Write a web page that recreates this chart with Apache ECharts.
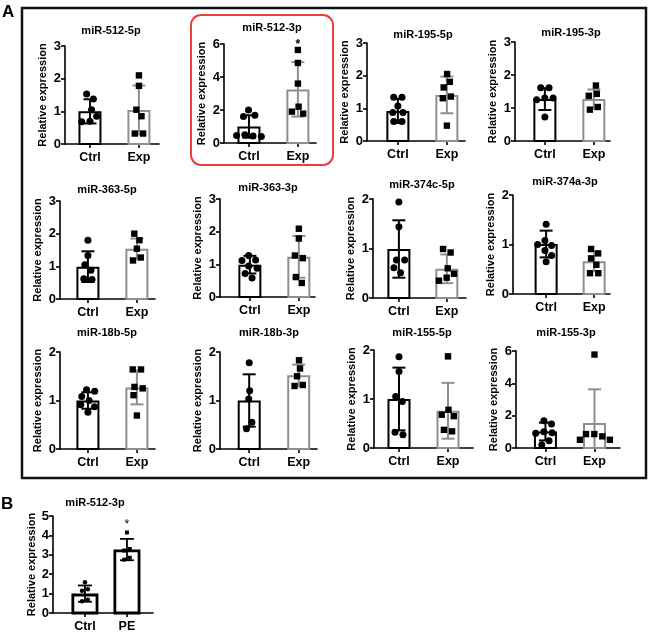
<!DOCTYPE html>
<html><head><meta charset="utf-8">
<script src="https://cdn.jsdelivr.net/npm/echarts@6/dist/echarts.min.js"></script>
<style>html,body{margin:0;padding:0;background:#fff}#c{width:650px;height:634px}</style>
</head><body><div id="c"></div>
<script>
// ---------- DATA ----------
const panelTitles = ['miR-512-5p','miR-512-3p','miR-195-5p','miR-195-3p',
  'miR-363-5p','miR-363-3p','miR-374c-5p','miR-374a-3p',
  'miR-18b-5p','miR-18b-3p','miR-155-5p','miR-155-3p','miR-512-3p'];
const categoriesA = ['Ctrl','Exp'];
const categoriesB = ['Ctrl','PE'];
const yMax      = [3,6,3,3, 3,3,2,2, 2,2,2,6, 5];
const yInterval = [1,2,1,1, 1,1,1,1, 1,1,1,2, 1];
const ctrlPoints = [
  [1.53,1.38,1.05,0.85,0.70,0.68],
  [2.00,1.68,1.60,0.50,0.45,0.42,0.40],
  [1.34,1.34,1.07,0.87,0.87,0.60,0.60],
  [1.61,1.61,1.30,1.30,1.25,0.73],
  [1.80,1.33,1.05,0.88,0.62,0.60],
  [1.27,1.13,1.12,0.95,0.88,0.72,0.58],
  [1.94,1.44,0.77,0.77,0.61,0.51],
  [1.41,1.08,1.00,0.98,0.88,0.78,0.65],
  [1.22,1.19,1.08,1.00,0.91,0.87,0.76],
  [1.78,1.20,1.03,0.55,0.42],
  [1.86,1.56,1.05,0.95,0.32,0.27],
  [1.68,1.48,1.00,0.95,0.92,0.45,0.20],
  [1.58,1.22,1.15,0.68,0.60]
];
const expPoints = [
  [2.10,1.78,1.05,0.85,0.32,0.32],
  [5.64,4.85,3.60,2.20,1.78,1.90],
  [2.05,1.81,1.64,1.36,1.31,0.47],
  [1.68,1.43,1.37,1.03,0.95],
  [2.00,1.80,1.54,1.27,1.18],
  [2.09,1.79,1.27,1.19,0.61,0.43],
  [0.99,0.92,0.60,0.49,0.41,0.35],
  [0.91,0.82,0.72,0.59,0.42,0.42],
  [1.64,1.64,1.28,1.25,1.11,0.69],
  [1.83,1.66,1.50,1.32,1.30],
  [1.87,0.78,0.68,0.65,0.37,0.34],
  [5.78,0.86,0.86,0.72,0.51,0.51],
  [4.15,3.30,3.22,2.85,2.75]
];
const ctrlMean = [1.00,1.00,0.92,1.27, 0.99,0.99,0.99,1.01, 1.00,1.00,1.00,1.02, 1.00];
const ctrlSD   = [0.37,0.68,0.37,0.33, 0.47,0.27,0.58,0.27, 0.17,0.54,0.64,0.55, 0.42];
const expMean  = [1.04,3.25,1.41,1.27, 1.54,1.23,0.59,0.66, 1.27,1.52,0.76,1.54, 3.27];
const expSD    = [0.75,1.65,0.56,0.29, 0.31,0.64,0.29,0.20, 0.35,0.22,0.57,2.09, 0.55];
const expSignif = ['','*','','', '','','','', '','','','', '*'];

// ---------- LAYOUT (pixels) ----------
// [left, top, width, height, padLeft(cat units), padRight(cat units), titleX, titleY]
const layout = [
  [65,46,94,98, .51,.41, 111,31],
  [224,44,92,99, .51,.37, 272,28],
  [367,43,98,98, .63,.37, 423,35],
  [515,42,95,99, .61,.33, 571,33],
  [60,201,95,98, .57,.37, 107,190],
  [220,199,95,98, .61,.33, 268,188],
  [373,199,93,99, .54,.40, 422,185],
  [513,195,97,99, .69,.33, 565,182],
  [60,352,95,97, .57,.37, 107,333],
  [220,352,97,97, .59,.37, 269,333],
  [374,350,99,98, .51,.51, 422,333],
  [516,351,104,97, .60,.52, 566,333],
  [53,516,100,97, .76,.62, 95,503]
];
const FONT = 'Arial, "Liberation Sans", Helvetica, sans-serif';
const GRAY = '#8f8f8f';

const grids=[], xAxes=[], yAxes=[], series=[], graphics=[];

function swarm(vals, py, d){
  const idx = vals.map((v,i)=>i).sort((a,b)=>vals[b]-vals[a]);
  const placed=[]; const off=new Array(vals.length);
  let flip=1;
  for(const i of idx){
    const y=vals[i]*py;
    const cands=[0];
    for(const p of placed){
      const dy=Math.abs(p.y-y);
      if(dy<d){const dx=Math.sqrt(d*d-dy*dy);cands.push(p.x+dx,p.x-dx);}
    }
    cands.sort((a,b)=>(Math.abs(a)-Math.abs(b))||(flip*(a-b)));
    let ch=0;
    for(const c of cands){
      if(placed.every(p=>Math.hypot(p.x-c,p.y-y)>=d-1e-6)){ch=c;break;}
    }
    flip=-flip;
    off[i]=ch; placed.push({x:ch,y:y,i:i});
  }
  const comp=new Array(vals.length).fill(-1); let nc=0;
  for(let s=0;s<placed.length;s++){
    if(comp[placed[s].i]>=0)continue;
    const stack=[s]; comp[placed[s].i]=nc;
    while(stack.length){
      const a=placed[stack.pop()];
      for(let t=0;t<placed.length;t++){
        const b=placed[t];
        if(comp[b.i]<0 && Math.hypot(a.x-b.x,a.y-b.y)<d+0.5){comp[b.i]=nc;stack.push(t);}
      }
    }
    nc++;
  }
  for(let c=0;c<nc;c++){
    const mem=placed.filter(p=>comp[p.i]===c);
    const m=mem.reduce((s,p)=>s+p.x,0)/mem.length;
    mem.forEach(p=>{off[p.i]=p.x-m;});
  }
  return off;
}

const swarmCache={};

for(let k=0;k<13;k++){
  const L=layout[k];
  const isB = k===12;
  const cats = isB?categoriesB:categoriesA;
  const barW = isB?27:23;
  const capW = isB?14:13;
  const mk = isB?4.5:7;
  const dist = isB?6:8.3;
  const expColor = isB?'#000':GRAY;
  const barLW = isB?2.8:2;
  grids.push({left:L[0],top:L[1],width:L[2],height:L[3],containLabel:false});
  xAxes.push({type:'value',gridIndex:k,min:-L[4],max:1+L[5],
    splitLine:{show:false},
    axisLine:{show:true,onZero:false,lineStyle:{color:'#000',width:1.6}},
    axisTick:{show:true,customValues:[0,1],length:4,lineStyle:{color:'#000',width:1.6}},
    axisLabel:{show:true,customValues:[0,1],formatter:v=>cats[Math.round(v)],
      color:'#000',fontFamily:FONT,fontWeight:'bold',fontSize:12.5,margin:7}
  });
  yAxes.push({type:'value',gridIndex:k,min:0,max:yMax[k],interval:yInterval[k],
    name:'Relative expression',nameLocation:'middle',nameGap:isB?16:17,
    nameTextStyle:{color:'#000',fontFamily:FONT,fontWeight:'bold',fontSize:11},
    splitLine:{show:false},
    axisLine:{show:true,onZero:false,lineStyle:{color:'#000',width:1.6}},
    axisTick:{show:true,length:4,lineStyle:{color:'#000',width:1.6}},
    axisLabel:{color:'#000',fontFamily:FONT,fontWeight:'bold',fontSize:13,margin:4}
  });
  graphics.push({type:'text',x:L[6],y:L[7],z:10,style:{text:panelTitles[k],
    fill:'#000',font:'bold 11px '+FONT,textAlign:'center',textVerticalAlign:'middle'}});

  const means=[ctrlMean[k],expMean[k]], sds=[ctrlSD[k],expSD[k]];
  const colors=['#000',expColor];
  series.push({type:'custom',xAxisIndex:k,yAxisIndex:k,z:2,clip:false,
    data:[[0,means[0]],[1,means[1]]],
    renderItem:(p,api)=>{
      const x=api.value(0), v=api.value(1);
      const a=api.coord([x,0]), b=api.coord([x,v]);
      const lw=barLW;
      return {type:'rect',shape:{x:a[0]-barW/2+lw/2,y:b[1]+lw/2,width:barW-lw,height:a[1]-b[1]-lw/2},
        style:{fill:'#fff',stroke:colors[x],lineWidth:lw}};
    }});
  series.push({type:'custom',xAxisIndex:k,yAxisIndex:k,z:3,clip:false,
    data:[[0,means[0],sds[0]],[1,means[1],sds[1]]],
    renderItem:(p,api)=>{
      const x=api.value(0), m=api.value(1), s=api.value(2);
      const top=api.coord([x,m+s]), bot=api.coord([x,Math.max(0,m-s)]);
      const c=colors[x]; const lw=isB?1.8:2;
      const ch=[
        {type:'line',shape:{x1:top[0],y1:top[1],x2:bot[0],y2:bot[1]},style:{stroke:c,lineWidth:lw}},
        {type:'line',shape:{x1:top[0]-capW/2,y1:top[1],x2:top[0]+capW/2,y2:top[1]},style:{stroke:c,lineWidth:lw}}
      ];
      if(m-s>0) ch.push({type:'line',shape:{x1:bot[0]-capW/2,y1:bot[1],x2:bot[0]+capW/2,y2:bot[1]},style:{stroke:c,lineWidth:lw}});
      if(x===1 && expSignif[k]){
        const pts=expPoints[k];
        const hi=Math.max(m+s,Math.max.apply(null,pts));
        const hp=api.coord([x,hi]);
        ch.push({type:'text',style:{text:expSignif[k],x:hp[0],y:hp[1]-(isB?8:5),
          fill:'#000',font:(isB?'12px ':'bold 12px ')+FONT,textAlign:'center',textVerticalAlign:'middle'}});
      }
      return {type:'group',children:ch};
    }});
  const pdata=[];
  ctrlPoints[k].forEach((v,i)=>pdata.push([0,v,i]));
  expPoints[k].forEach((v,i)=>pdata.push([1,v,i]));
  series.push({type:'custom',xAxisIndex:k,yAxisIndex:k,z:4,clip:false,data:pdata,
    renderItem:(p,api)=>{
      const x=api.value(0), v=api.value(1), i=api.value(2);
      const py=api.size([0,1])[1];
      const key=k+'_'+x;
      if(!swarmCache[key]) swarmCache[key]=swarm(x===0?ctrlPoints[k]:expPoints[k],py,dist);
      const c=api.coord([x,v]);
      const cx=c[0]+swarmCache[key][i];
      if(x===0) return {type:'circle',shape:{cx:cx,cy:c[1],r:mk/2},style:{fill:'#000'}};
      return {type:'rect',shape:{x:cx-mk/2+0.3,y:c[1]-mk/2+0.3,width:mk-0.6,height:mk-0.6},style:{fill:'#000'}};
    }});
}

graphics.push({type:'rect',z:1,shape:{x:22,y:8,width:624,height:470},style:{fill:'none',stroke:'#111',lineWidth:2.5}});
graphics.push({type:'rect',z:1,shape:{x:191,y:15,width:142,height:150,r:10},style:{fill:'none',stroke:'#e8403a',lineWidth:2}});
graphics.push({type:'text',x:2,y:12,style:{text:'A',fill:'#000',font:'bold 17px '+FONT,textVerticalAlign:'middle'}});
graphics.push({type:'text',x:1,y:504,style:{text:'B',fill:'#000',font:'bold 17px '+FONT,textVerticalAlign:'middle'}});

const chart=echarts.init(document.getElementById('c'),null,{renderer:'canvas'});
chart.setOption({animation:false,backgroundColor:'#fff',grid:grids,xAxis:xAxes,yAxis:yAxes,series:series,graphic:graphics});
</script></body></html>
